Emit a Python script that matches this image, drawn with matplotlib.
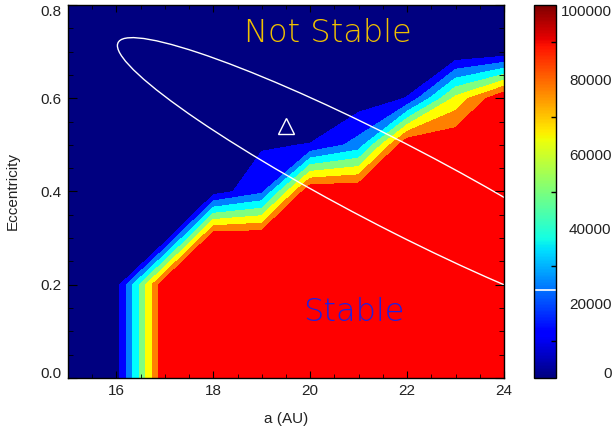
import numpy as np
import matplotlib
matplotlib.use('Agg')
import matplotlib.pyplot as plt
from matplotlib.patches import Ellipse
from matplotlib.colors import Normalize
from matplotlib.cm import ScalarMappable
from matplotlib.ticker import MultipleLocator

plt.rcParams['font.family'] = ['Liberation Sans', 'DejaVu Sans']

# grid of the stability map
semi_major = [15, 16, 17, 18, 19, 20, 21, 22, 23, 24]
eccentricity = [0.0, 0.1, 0.2, 0.3, 0.4, 0.5, 0.6, 0.7, 0.8]

# survival time (yr), one column per semi-major axis, e = 0.0 ... 0.8
survival = [
    [0, 0, 0, 0, 0, 0, 0, 0, 0],                          # a = 15
    [6000, 6000, 6000, 0, 0, 0, 0, 0, 0],                 # a = 16
    [1e5, 1e5, 1e5, 4000, 0, 0, 0, 0, 0],                 # a = 17
    [1e5, 1e5, 1e5, 1e5, 6000, 0, 0, 0, 0],               # a = 18
    [1e5, 1e5, 1e5, 1e5, 22000, 11000, 0, 0, 0],          # a = 19
    [1e5, 1e5, 1e5, 1e5, 1e5, 13000, 0, 0, 0],            # a = 20
    [1e5, 1e5, 1e5, 1e5, 1e5, 30000, 5000, 0, 0],         # a = 21
    [1e5, 1e5, 1e5, 1e5, 1e5, 1e5, 13000, 0, 0],          # a = 22
    [1e5, 1e5, 1e5, 1e5, 1e5, 1e5, 66000, 0, 0],          # a = 23
    [1e5, 1e5, 1e5, 1e5, 1e5, 1e5, 1e5, 2800, 0],         # a = 24
]
levels = [0, 12500, 25000, 37500, 50000, 62500, 75000, 87500, 100000]
band_colors = ['#000080', '#0000ff', '#0080ff', '#00ffff',
               '#80ff80', '#ffff00', '#ff8000', '#ff0000']

# best fit orbit and its uncertainty ellipse
best_a, best_e = 19.5, 0.54
ell_center = (21.71, 0.414)
ell_sig_a, ell_sig_e, ell_rho = 5.69, 0.316, -0.946

cbar_ticks = [0, 20000, 40000, 60000, 80000, 100000]
cbar_marker = 23600

fig = plt.figure(figsize=(6.16, 4.34), dpi=100)
ax = fig.add_axes([68 / 616, 56 / 434, 436 / 616, 373 / 434])
cax = fig.add_axes([533.5 / 616, 56 / 434, 22.5 / 616, 373 / 434])

Z = np.array(survival, dtype=float).T
ax.contourf(semi_major, eccentricity, Z, levels=levels, colors=band_colors)

# uncertainty ellipse from the covariance
cov = np.array([[ell_sig_a ** 2, ell_rho * ell_sig_a * ell_sig_e],
                [ell_rho * ell_sig_a * ell_sig_e, ell_sig_e ** 2]])
vals, vecs = np.linalg.eigh(cov)
ang = np.degrees(np.arctan2(vecs[1, 1], vecs[0, 1]))
ax.add_patch(Ellipse(ell_center, 2 * np.sqrt(vals[1]), 2 * np.sqrt(vals[0]),
                     angle=ang, fill=False, ec='white', lw=1.0))

ax.plot([best_a], [best_e], marker='^', ms=11, mfc='none', mec='white', mew=1.0)

ax.text(20.37, 0.7395, 'Not Stable', ha='center', va='center', fontsize=23,
        color='#f0c000', family='DejaVu Sans', fontweight='light')
ax.text(20.89, 0.1416, 'Stable', ha='center', va='center', fontsize=23,
        color='#2020e0', family='DejaVu Sans', fontweight='light')

ax.set_xlim(15, 24)
ax.set_ylim(0, 0.8)
ax.xaxis.set_major_locator(MultipleLocator(2))
ax.xaxis.set_minor_locator(MultipleLocator(0.5))
ax.yaxis.set_major_locator(MultipleLocator(0.2))
ax.yaxis.set_minor_locator(MultipleLocator(0.05))
ax.tick_params(which='both', direction='in', top=True, right=True,
               labelsize=11, labelcolor='#222222', pad=4.5)
ax.tick_params(axis='x', which='major', length=5.3)
ax.tick_params(axis='x', which='minor', length=2.8)
ax.tick_params(axis='y', which='major', length=6.5)
ax.tick_params(axis='y', which='minor', length=3.3)
for s in ax.spines.values():
    s.set_linewidth(1.0)

ax.set_xlabel('a (AU)', fontsize=11, color='#222222')
ax.set_ylabel('Eccentricity', fontsize=11, color='#222222')
ax.xaxis.set_label_coords(0.5, -0.09)
ax.yaxis.set_label_coords(-0.11, 0.5)

# colorbar
sm = ScalarMappable(norm=Normalize(0, 100000), cmap='jet')
cb = fig.colorbar(sm, cax=cax)
cb.set_ticks(cbar_ticks)
cb.set_ticks([10000, 30000, 50000, 70000, 90000], minor=True)
cb.outline.set_linewidth(1.0)
cax.tick_params(which='major', length=0, pad=40, labelsize=11, labelcolor='#222222')
cax.tick_params(which='minor', direction='in', length=3.5, width=1, color='black',
                left=False, right=True)
cax.axhline(cbar_marker, color='white', lw=1.2)

fig.canvas.draw()
for axis, lo, hi in [(ax.yaxis, 0.0, 0.8), (cax.yaxis, 0, 100000)]:
    for t in axis.get_major_ticks():
        loc = t.get_loc()
        if abs(loc - lo) < 1e-9:
            t.label1.set_va('baseline'); t.label2.set_va('baseline')
        elif abs(loc - hi) < 1e-9:
            t.label1.set_va('top'); t.label2.set_va('top')
for t in cax.yaxis.get_major_ticks():
    t.label2.set_ha('right')

fig.savefig('out.png', dpi=100, facecolor='white')
